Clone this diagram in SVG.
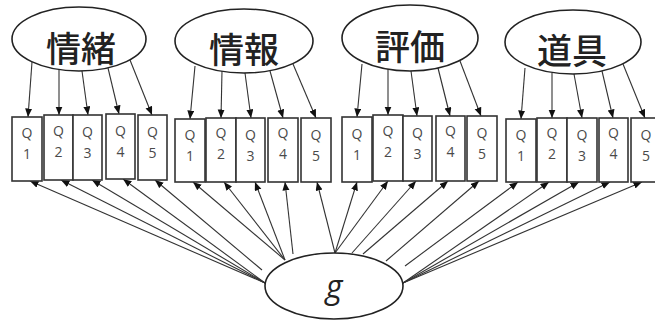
<svg xmlns="http://www.w3.org/2000/svg" width="655" height="320" viewBox="0 0 655 320">
<style>
.lat{fill:#fff;stroke:#222;stroke-width:1.6}
.box{fill:#fff;stroke:#333;stroke-width:1.6}
.lt{font-family:"Noto Sans CJK JP","Noto Sans",sans-serif;font-size:35px;font-weight:500;fill:#222;text-anchor:middle;dominant-baseline:central}
.q{font-family:"Open Sans","Liberation Sans",sans-serif;font-size:14px;fill:#4a4a4a;text-anchor:middle}
.g{font-family:"Open Sans","Liberation Sans",sans-serif;font-size:32px;font-style:italic;fill:#222;text-anchor:middle}
.c line{stroke:#333;stroke-width:1.1;marker-end:url(#ah)}
</style>
<defs>
<marker id="ah" markerUnits="userSpaceOnUse" markerWidth="9" markerHeight="8" refX="8.5" refY="3.5" orient="auto">
<path d="M0,0 L8.5,3.5 L0,7 z" fill="#111"/>
</marker>
</defs>

<g class="c" id="connectors">
<line x1="32" y1="62" x2="28" y2="117"/>
<line x1="59" y1="69" x2="59" y2="115"/>
<line x1="82" y1="71" x2="88" y2="115"/>
<line x1="108" y1="68" x2="119" y2="114"/>
<line x1="130" y1="60" x2="152" y2="115"/>
<line x1="195" y1="66" x2="190" y2="119"/>
<line x1="222" y1="71" x2="221" y2="118"/>
<line x1="245" y1="73" x2="251" y2="118"/>
<line x1="270" y1="71" x2="283" y2="118"/>
<line x1="293" y1="64" x2="316" y2="118"/>
<line x1="362" y1="64" x2="357" y2="117"/>
<line x1="388" y1="69" x2="388" y2="115"/>
<line x1="411" y1="71" x2="417" y2="116"/>
<line x1="438" y1="68" x2="450" y2="116"/>
<line x1="460" y1="61" x2="481" y2="116"/>
<line x1="525" y1="68" x2="521" y2="119"/>
<line x1="552" y1="73" x2="552" y2="118"/>
<line x1="574" y1="74" x2="582" y2="118"/>
<line x1="602" y1="71" x2="613" y2="118"/>
<line x1="623" y1="64" x2="645" y2="118"/>
<line x1="265" y1="283" x2="30" y2="181"/>
<line x1="265" y1="283" x2="61" y2="180"/>
<line x1="265" y1="283" x2="92" y2="180"/>
<line x1="265" y1="283" x2="123" y2="179"/>
<line x1="262" y1="270" x2="155" y2="180"/>
<line x1="285" y1="260" x2="193" y2="182"/>
<line x1="285" y1="260" x2="224" y2="182"/>
<line x1="285" y1="260" x2="255" y2="182"/>
<line x1="293" y1="254" x2="285" y2="182"/>
<line x1="335" y1="253" x2="317" y2="182"/>
<line x1="335" y1="253" x2="357" y2="182"/>
<line x1="335" y1="253" x2="388" y2="181"/>
<line x1="352" y1="253" x2="416" y2="181"/>
<line x1="363" y1="254" x2="448" y2="181"/>
<line x1="386" y1="261" x2="479" y2="181"/>
<line x1="405" y1="266" x2="518" y2="182"/>
<line x1="403" y1="283" x2="549" y2="182"/>
<line x1="403" y1="283" x2="579" y2="182"/>
<line x1="403" y1="283" x2="610" y2="182"/>
<line x1="403" y1="283" x2="642" y2="182"/>
</g>

<g id="emo"><ellipse class="lat" cx="79" cy="39" rx="67" ry="32"/><text class="lt" x="81" y="46">情緒</text></g>
<g id="info"><ellipse class="lat" cx="244" cy="41" rx="69" ry="32"/><text class="lt" x="244" y="47">情報</text></g>
<g id="eval"><ellipse class="lat" cx="410" cy="38" rx="68" ry="33"/><text class="lt" x="410" y="44">評価</text></g>
<g id="tool"><ellipse class="lat" cx="573" cy="42" rx="68" ry="32"/><text class="lt" x="572" y="48">道具</text></g>
<g id="gfac"><ellipse class="lat" cx="334" cy="286" rx="69" ry="33"/><text class="g" x="334" y="298">g</text></g>

<g id="e1"><rect class="box" x="12" y="117" width="30" height="64"/><text class="q" x="27" y="138">Q</text><text class="q" x="27" y="159">1</text></g>
<g id="e2"><rect class="box" x="44" y="115" width="29" height="65"/><text class="q" x="58.5" y="136">Q</text><text class="q" x="58.5" y="157">2</text></g>
<g id="e3"><rect class="box" x="73" y="115" width="29" height="65"/><text class="q" x="87.5" y="137">Q</text><text class="q" x="87.5" y="158">3</text></g>
<g id="e4"><rect class="box" x="106" y="114" width="29" height="65"/><text class="q" x="120.5" y="136">Q</text><text class="q" x="120.5" y="157">4</text></g>
<g id="e5"><rect class="box" x="138" y="115" width="29" height="65"/><text class="q" x="152.5" y="137">Q</text><text class="q" x="152.5" y="158">5</text></g>

<g id="i1"><rect class="box" x="175" y="119" width="30" height="63"/><text class="q" x="190" y="140">Q</text><text class="q" x="190" y="161">1</text></g>
<g id="i2"><rect class="box" x="206" y="118" width="30" height="64"/><text class="q" x="221" y="138">Q</text><text class="q" x="221" y="159">2</text></g>
<g id="i3"><rect class="box" x="236" y="118" width="29" height="64"/><text class="q" x="250.5" y="140">Q</text><text class="q" x="250.5" y="161">3</text></g>
<g id="i4"><rect class="box" x="268" y="118" width="30" height="64"/><text class="q" x="283" y="138">Q</text><text class="q" x="283" y="159">4</text></g>
<g id="i5"><rect class="box" x="301" y="118" width="30" height="64"/><text class="q" x="316" y="140">Q</text><text class="q" x="316" y="161">5</text></g>

<g id="v1"><rect class="box" x="342" y="117" width="30" height="65"/><text class="q" x="357" y="139">Q</text><text class="q" x="357" y="160">1</text></g>
<g id="v2"><rect class="box" x="373" y="115" width="30" height="66"/><text class="q" x="388" y="136">Q</text><text class="q" x="388" y="157">2</text></g>
<g id="v3"><rect class="box" x="403" y="116" width="29" height="65"/><text class="q" x="417.5" y="138">Q</text><text class="q" x="417.5" y="159">3</text></g>
<g id="v4"><rect class="box" x="436" y="116" width="29" height="65"/><text class="q" x="450.5" y="136">Q</text><text class="q" x="450.5" y="157">4</text></g>
<g id="v5"><rect class="box" x="467" y="116" width="30" height="65"/><text class="q" x="482" y="138">Q</text><text class="q" x="482" y="159">5</text></g>

<g id="t1"><rect class="box" x="506" y="119" width="30" height="63"/><text class="q" x="521" y="140">Q</text><text class="q" x="521" y="161">1</text></g>
<g id="t2"><rect class="box" x="537" y="118" width="30" height="64"/><text class="q" x="552" y="138">Q</text><text class="q" x="552" y="159">2</text></g>
<g id="t3"><rect class="box" x="567" y="118" width="30" height="64"/><text class="q" x="582" y="140">Q</text><text class="q" x="582" y="161">3</text></g>
<g id="t4"><rect class="box" x="599" y="118" width="29" height="64"/><text class="q" x="613.5" y="138">Q</text><text class="q" x="613.5" y="159">4</text></g>
<g id="t5"><rect class="box" x="631" y="118" width="30" height="64"/><text class="q" x="646" y="140">Q</text><text class="q" x="646" y="161">5</text></g>
</svg>
